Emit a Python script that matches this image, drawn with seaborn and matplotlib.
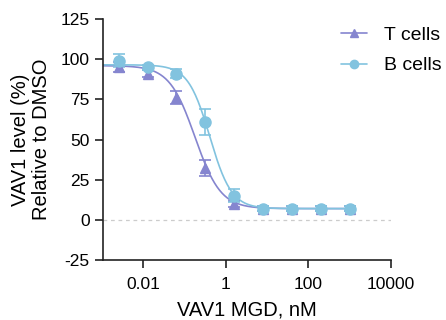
import numpy as np
import pandas as pd
import seaborn as sns
import matplotlib.pyplot as plt

# doses (nM), 5-fold dilution
dose = [0.00256, 0.0128, 0.064, 0.32, 1.6, 8, 40, 200, 1000]

t_mean = [95, 91, 76, 32, 10, 7, 7, 7, 7]
t_err = [3, 2, 4, 5, 2, 1.5, 1.5, 1.5, 1.5]
b_mean = [99, 95, 91, 61, 15, 7, 7, 7, 7]
b_err = [4, 1.5, 3, 8, 4, 1.5, 1.5, 1.5, 1.5]

# fitted 4PL parameters: top, bottom, IC50, hill
t_fit = [96, 7, 0.18, 1.4]
b_fit = [96.5, 7, 0.41, 1.65]

t_col = '#8585cf'
b_col = '#82c3df'

sns.set_style('ticks')
plt.rcParams['font.family'] = ['Liberation Sans', 'DejaVu Sans']
plt.rcParams['axes.unicode_minus'] = False
plt.rcParams['text.color'] = 'black'
plt.rcParams['axes.labelcolor'] = 'black'

fig = plt.figure(figsize=(4.46, 3.2), dpi=100)
ax = fig.add_axes([0.231, 0.1875, 0.646, 0.753])

xs = np.logspace(-3, 3, 300)
def four_pl(x, p):
    return p[1] + (p[0] - p[1]) / (1 + (x / p[2]) ** p[3])

curves = pd.DataFrame({'x': np.concatenate([xs, xs]),
                       'y': np.concatenate([four_pl(xs, t_fit), four_pl(xs, b_fit)]),
                       'cell': ['T cells'] * len(xs) + ['B cells'] * len(xs)})
sns.lineplot(data=curves, x='x', y='y', hue='cell', palette={'T cells': t_col, 'B cells': b_col},
             linewidth=1.2, legend=False, ax=ax)

ax.axhline(0, color='#cccccc', linestyle='--', linewidth=0.9, dashes=(3, 3), zorder=0)

ax.errorbar(dose, t_mean, yerr=t_err, fmt='none', ecolor=t_col, elinewidth=1.2, capsize=4, capthick=1.2)
ax.errorbar(dose, b_mean, yerr=b_err, fmt='none', ecolor=b_col, elinewidth=1.2, capsize=4, capthick=1.2)
ax.plot(dose, t_mean, linestyle='none', marker='^', markersize=7, color=t_col)
ax.plot(dose, b_mean, linestyle='none', marker='o', markersize=8, color=b_col)

# legend handles
ax.plot([], [], color=t_col, marker='^', markersize=6, linewidth=1.2, label='T cells')
ax.plot([], [], color=b_col, marker='o', markersize=6, linewidth=1.2, label='B cells')
ax.legend(loc='upper left', bbox_to_anchor=(0.78, 1.025), frameon=False, fontsize=14,
          handlelength=1.3, handletextpad=0.9, labelspacing=0.65, borderaxespad=0.3)

ax.set_xscale('log')
ax.set_xlim(10 ** -2.97, 10000)
ax.set_ylim(-25, 125)
ax.set_xticks([0.01, 1, 100, 10000])
ax.set_xticklabels(['0.01', '1', '100', '10000'])
ax.minorticks_off()
ax.set_yticks([-25, 0, 25, 50, 75, 100, 125])
ax.tick_params(labelsize=12.5, width=1.2, length=6, color='#222222', labelcolor='black')
ax.tick_params(axis='x', pad=6)
for s in ['left', 'bottom']:
    ax.spines[s].set_linewidth(1.2)
    ax.spines[s].set_color('#222222')
sns.despine(ax=ax)

ax.set_xlabel('VAV1 MGD, nM', fontsize=14.5, labelpad=6)
ax.set_ylabel('VAV1 level (%)\nRelative to DMSO', fontsize=14.5, linespacing=1.1, labelpad=7)

plt.savefig('out.png', dpi=100)
